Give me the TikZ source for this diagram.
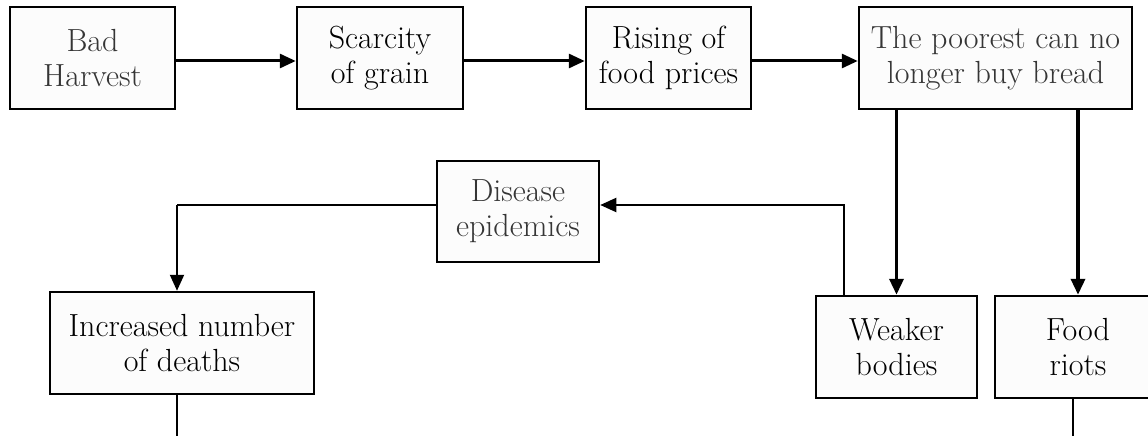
\documentclass[tikz,border=0pt]{standalone}
\usetikzlibrary{arrows.meta}
\definecolor{boxfill}{HTML}{FCFCFC}
\definecolor{graytext}{HTML}{353535}
\tikzset{
  box/.style={draw=black, line width=2.5pt, fill=boxfill, align=center, inner sep=0pt,
    font=\fontsize{32}{35}\selectfont},
  thick arrow/.style={line width=3pt, -{Triangle[length=16pt,width=14pt]}},
  vert arrow/.style={line width=3.5pt, -{Triangle[length=16pt,width=14pt]}},
  thin arrow/.style={line width=2pt, -{Triangle[length=16pt,width=14pt]}},
  thin line/.style={line width=2pt},
}
\begin{document}
\begin{tikzpicture}[x=1pt,y=-1pt]
\useasboundingbox (0,0) rectangle (1148,436);
\clip (0,0) rectangle (1148,436);
\node[box, text=graytext, minimum width=165pt, minimum height=102pt] (bad) at (92.5,58) {Bad\\Harvest};
\node[box, minimum width=166pt, minimum height=102pt] (scar) at (380,58) {Scarcity\\of grain};
\node[box, minimum width=165pt, minimum height=102pt] (rise) at (668.5,58) {Rising of\\food prices};
\node[box, text=graytext, minimum width=273pt, minimum height=102pt] (poor) at (995.5,58) {The poorest can no\\longer buy bread};
\node[box, text=graytext, minimum width=162pt, minimum height=101pt] (dis) at (518,211.5) {Disease\\epidemics};
\node[box, minimum width=264pt, minimum height=102pt] (death) at (182,343) {Increased number\\of deaths};
\node[box, minimum width=161pt, minimum height=102pt] (weak) at (896.5,347) {Weaker\\bodies};
\node[box, minimum width=166pt, minimum height=102pt] (riot) at (1078,347) {Food\\riots};
\coordinate (dc) at (177,205);
\coordinate (wc) at (844,205);
\coordinate (dend) at (177,440);
\coordinate (rend) at (1073,440);
\draw[thick arrow] (bad.east |- 0,61) -- (scar.west |- 0,61);
\draw[thick arrow] (scar.east |- 0,61) -- (rise.west |- 0,61);
\draw[thick arrow] (rise.east |- 0,61) -- (poor.west |- 0,61);
\draw[vert arrow] (poor.south -| weak.north) -- (weak.north);
\draw[vert arrow] (poor.south -| riot.north) -- (riot.north);
\draw[thin arrow] (weak.north -| wc) -- (wc) -- (dis.east |- wc);
\draw[thin line] (dis.west |- dc) -- (dc);
\draw[thin arrow] (dc) -- (death.north -| dc);
\draw[thin line] (death.south -| dend) -- (dend);
\draw[thin line] (riot.south -| rend) -- (rend);
\end{tikzpicture}
\end{document}
